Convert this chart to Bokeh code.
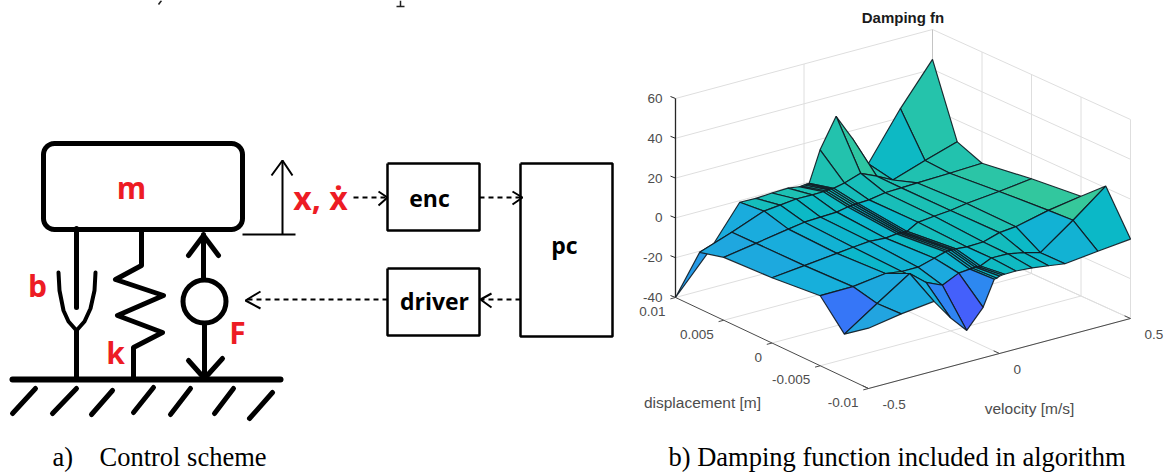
import numpy as np
from bokeh.plotting import figure
from bokeh.models import Range1d
from bokeh.core.properties import value
from bokeh.embed import file_html
from bokeh.resources import INLINE

# ---------- surface data ----------
velocity = [-.5, -.375, -.25, -.1875, -.125, -.0625, -.02, -.01, 0, .01, .02, .0625, .125, .1875, .25, .375, .5]
displacement = [.01, .0075, .005, 0, -.005, -.0075, -.01]
damping = [
    [-40, -22.1, -.8, -1, -.5, -.2, -1, -1, -.8, -.7, -.7, 14.7, 29.4, 16.3, 1.2, 24.6, 45],
    [-11.6, -5.8, .45, 1.3, 2.2, 2.1, 2.2, 2.2, 2.4, 2.5, 2.5, 3.7, 6.4, 2.8, -1.3, 4.2, 9.2],
    [-8.4, -5.7, -2.9, -1.6, -1.25, -.9, .2, .3, .5, .6, .6, .9, 2.3, 2.6, 2.9, 3.4, 4.1],
    [-7.2, -5.5, -3.7, -2.8, -2, -2.6, -1.9, -1.9, -2, -2.1, -2.1, 1, 1.85, 2.6, 3.9, 5.6, 7.6],
    [-4.8, -4.6, -2.4, -3.6, -3.6, -1.3, .4, .5, .6, .5, .5, 0, .3, 2.8, 3.6, 7.4, 10.1],
    [-18.4, -7.4, 3.3, -3.4, -7, -3.1, -2.6, -2.5, -2.3, -2.4, -2.4, .1, 0, -1.6, -3.8, 8.1, 20.9],
    [-9.7, -6.9, -5, -15.4, -24, -14.6, -2, -1.8, -1.1, -.9, -.9, -.75, -1.4, -2.5, -3.7, -1.8, -.1],
]
z_ticks = [-40, -20, 0, 20, 40, 60]
v_ticks = [-.5, 0, .5]
d_ticks = [.01, .005, 0, -.005, -.01]
z_labels = ["-40", "-20", "0", "20", "40", "60"]
v_labels = ["-0.5", "0", "0.5"]
d_labels = ["0.01", "0.005", "0", "-0.005", "-0.01"]

color_z = [-40, -24, -16, -10, -5, -2, 2, 8, 20, 45]
color_stops = ["#3e26a8", "#4460fb", "#3080f5", "#23a3e0", "#18aedc", "#0ab8c8",
               "#1cc0b4", "#35c89c", "#80cb58", "#f9fb15"]

box_x = [675, 932, 868, 1130]
box_y = [297, 228, 388, 318]
z_px = 1.99


def proj(v, d, z):
    u = v + .5
    t = (.01 - d) / .02
    x = box_x[0]*(1-u)*(1-t) + box_x[1]*u*(1-t) + box_x[2]*(1-u)*t + box_x[3]*u*t
    y = box_y[0]*(1-u)*(1-t) + box_y[1]*u*(1-t) + box_y[2]*(1-u)*t + box_y[3]*u*t
    return x, y - z_px*(z + 40)


def hex2rgb(h):
    return [int(h[i:i+2], 16) for i in (1, 3, 5)]


def z_color(z):
    ch = [np.interp(z, color_z, [hex2rgb(c)[k] for c in color_stops]) for k in range(3)]
    return "#%02x%02x%02x" % tuple(int(round(c)) for c in ch)


# ---------- scheme data ----------
mass_box = (43, 242, 143, 229, 11)
damper_rod = [(76, 228), (76, 307)]
damper_cup = [(58, 272), (59, 290), (63, 310), (68, 321), (76, 330), (84, 321), (90, 308), (94, 290), (95, 272)]
damper_foot = [(76, 330), (76, 379)]
spring = [(141, 231), (141, 265), (115, 279), (163, 295), (117, 315), (162, 332), (133, 347), (133, 378)]
force_up = [(203, 278), (203, 234)]
force_up_head = [(188, 255), (203, 235), (218, 255)]
force_down = [(204, 323), (204, 378)]
force_down_head = [(188, 360), (204, 378), (222, 358)]
ground = [(12, 379), (280, 379)]
hatches = [[(35, 388), (12, 413)], [(76, 388), (52, 413)], [(112, 390), (91, 414)], [(153, 387), (133, 412)],
           [(190, 388), (170, 414)], [(233, 388), (214, 413)], [(272, 392), (249, 418)]]
thin_up = [(282, 234), (282, 160)]
thin_head = [(271, 175), (282, 160), (292, 175)]
thin_base = [(242, 234), (295, 234)]
blocks = {"enc": (387, 479, 163, 230), "driver": (387, 479, 268, 335), "pc": (520, 612, 163, 336)}
dashed = [[(353, 197), (386, 197)], [(479, 197), (520, 197)], [(520, 299), (481, 299)], [(387, 299), (246, 299)]]
dash_heads = [[(378, 191), (387, 197), (378, 205)], [(512, 191), (522, 197), (512, 204)],
              [(491, 293), (480, 299), (491, 307)], [(260, 291), (245, 300), (260, 308)]]
# remnants of the cropped text line along the top edge
top_marks = [[(161, 0), (158, 4)], [(400, 0), (400, 6)], [(396, 6), (404, 6)]]

p = figure(width=1164, height=472, output_backend="svg", toolbar_location=None,
           x_range=Range1d(0, 1164), y_range=Range1d(472, 0), min_border=0,
           x_axis_type=None, y_axis_type=None, outline_line_color=None)
p.grid.visible = False
p.background_fill_color = "white"


def path(pts, **kw):
    p.line([q[0] for q in pts], [q[1] for q in pts], **kw)


GRID = "#dedede"
def seg(a, b, **kw):
    xa, ya = proj(*a); xb, yb = proj(*b)
    p.line([xa, xb], [ya, yb], **kw)

v0, v1 = velocity[0], velocity[-1]
d0, d1 = displacement[0], displacement[-1]
zlo, zhi = z_ticks[0], z_ticks[-1]
for z in z_ticks:
    seg((v0, d0, z), (v1, d0, z), line_color=GRID, line_width=1)
    seg((v1, d0, z), (v1, d1, z), line_color=GRID, line_width=1)
for v in v_ticks[1:]:
    seg((v, d0, zlo), (v, d0, zhi), line_color=GRID if v != v1 else "#c4c4c4", line_width=1)
    seg((v, d0, zlo), (v, d1, zlo), line_color=GRID, line_width=1)
for d in d_ticks[1:]:
    seg((v1, d, zlo), (v1, d, zhi), line_color=GRID, line_width=1)
    seg((v0, d, zlo), (v1, d, zlo), line_color=GRID, line_width=1)

AX = "#4a4a4a"
seg((v0, d0, zlo), (v0, d1, zlo), line_color=AX, line_width=1)
seg((v0, d1, zlo), (v1, d1, zlo), line_color=AX, line_width=1)
seg((v0, d0, zlo), (v0, d0, zhi), line_color="#262626", line_width=1.3)

xs, ys, fills = [], [], []
for r in range(len(displacement) - 1):
    for c in range(len(velocity) - 2, -1, -1):
        corners = [(r, c), (r, c+1), (r+1, c+1), (r+1, c)]
        q = [proj(velocity[j], displacement[i], damping[i][j]) for i, j in corners]
        xs.append([a[0] for a in q]); ys.append([a[1] for a in q])
        fills.append(z_color(damping[r+1][c]))
p.patches(xs, ys, fill_color=fills, line_color="#101820", line_width=1.2, line_alpha=.9)

TXT = "#4d4d4d"
FONT = value("Liberation Sans")
def label(x, y, s, size, align="center", color=TXT, style="normal", font=FONT):
    p.text([x], [y], text=[s], text_font=font, text_font_size=f"{size}px", text_align=align,
           text_baseline="middle", text_color=color, text_font_style=style)

for z, s in zip(z_ticks, z_labels):
    x, y = proj(v0, d0, z)
    p.line([x, x-5], [y, y-2], line_color="#262626", line_width=1)
    label(x-13, y, s, 13.5, "right")
for d, s in zip(d_ticks, d_labels):
    x, y = proj(v0, d, zlo)
    xb, yb = proj(v0 - .02, d, zlo)
    p.line([x, xb], [y, yb], line_color=AX, line_width=1)
    label(x-10, y+14, s, 13.5, "right")
for v, s in zip(v_ticks, v_labels):
    x, y = proj(v, d1, zlo)
    xb, yb = proj(v, d1 + .0006, zlo)
    p.line([x, xb], [y, yb], line_color=AX, line_width=1)
    label(x+14, y+16, s, 13.5, "left")
label(702, 402, "displacement [m]", 15.5)
label(1029, 408, "velocity [m/s]", 15.5)
label(902.5, 17, "Damping fn", 15, style="bold", color="#1a1a1a")

K = dict(line_color="black", line_cap="round", line_join="round")
x0, x1, y0, y1, rad = mass_box
a = np.linspace(0, np.pi/2, 9)
mx = list(x1 - rad + rad*np.sin(a)) + list(x1 - rad + rad*np.cos(a)) + list(x0 + rad - rad*np.sin(a)) + list(x0 + rad - rad*np.cos(a))
my = list(y0 + rad - rad*np.cos(a)) + list(y1 - rad + rad*np.sin(a)) + list(y1 - rad + rad*np.cos(a)) + list(y0 + rad - rad*np.sin(a))
p.line(mx + mx[:1], my + my[:1], line_width=5, **K)
for pts in (damper_rod, damper_foot, spring, force_up, force_up_head, force_down, force_down_head):
    path(pts, line_width=5, **K)
path(damper_cup, line_width=4, **K)
path(ground, line_width=6, **K)
for h in hatches:
    path(h, line_width=5, **K)
p.circle([204], [301], radius=21.5, fill_color="white", line_color="black", line_width=5)
for pts in (thin_up, thin_head, thin_base):
    path(pts, line_width=2, line_color="black")
for pts in top_marks:
    path(pts, line_width=1.5, line_color="#222222")

for name, (a0, a1, b0, b1) in blocks.items():
    path([(a0, b0), (a1, b0), (a1, b1), (a0, b1), (a0, b0)], line_width=2.5, line_color="black")
for pts in dashed:
    path(pts, line_width=2, line_color="black", line_dash="5 4")
for pts in dash_heads:
    path(pts, line_width=2, line_color="black")

BOLD = value("Open Sans")
RED = "#ed1c24"
label(131, 187, "m", 30, color=RED, style="bold", font=BOLD)
label(37, 285, "b", 30, color=RED, style="bold", font=BOLD)
label(115, 352, "k", 30, color=RED, style="bold", font=BOLD)
label(237, 332, "F", 30, color=RED, style="bold", font=BOLD)
label(320, 197, "x, \u1e8b", 32, color=RED, style="bold", font=BOLD)
label(429, 197, "enc", 23, color="black", style="bold", font=BOLD)
label(434, 300, "driver", 23, color="black", style="bold", font=BOLD)
label(564, 244, "pc", 23, color="black", style="bold", font=BOLD)

SERIF = value("Liberation Serif")
label(52, 456, "a)", 26.5, "left", "black", font=SERIF)
label(99, 456, "Control scheme", 26.5, "left", "black", font=SERIF)
label(668, 456, "b) Damping function included in algorithm", 26.5, "left", "black", font=SERIF)

open("out.html", "w").write(file_html(p, INLINE))
